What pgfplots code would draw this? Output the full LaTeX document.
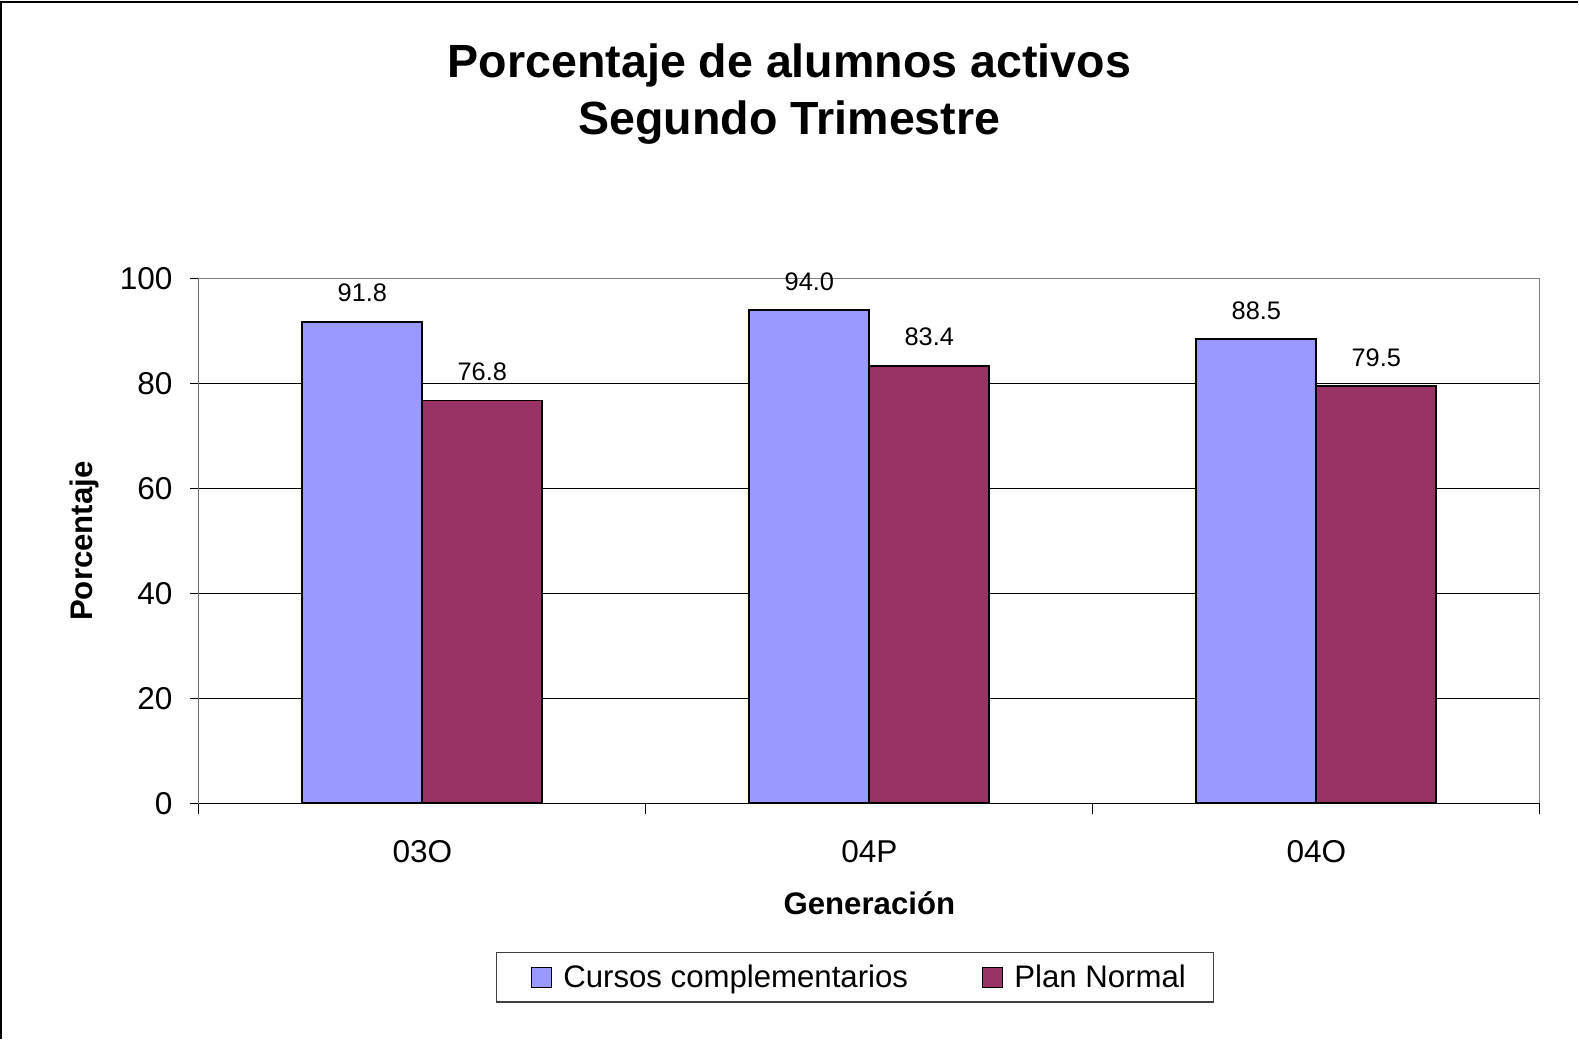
\documentclass[border=0pt]{standalone}
\usepackage{pgfplots}
\pgfplotsset{compat=1.18}
\usepackage{fontspec}
\setmainfont{Liberation Sans}
\definecolor{serA}{HTML}{9999FF}
\definecolor{serB}{HTML}{993366}
\begin{document}
\begin{tikzpicture}
\path (0,0) rectangle (789.5pt,520pt);
\draw[line width=1.2pt] (0.6pt,0) -- (0.6pt,519pt) -- (789.5pt,519pt);
\node[anchor=base,font=\fontsize{23.3}{28}\selectfont\bfseries] at (395pt,481.3pt) {Porcentaje de alumnos activos};
\node[anchor=base,font=\fontsize{23.3}{28}\selectfont\bfseries] at (395pt,452.5pt) {Segundo Trimestre};
\begin{axis}[
  at={(99.5pt,118pt)}, anchor=south west,
  scale only axis, width=671pt, height=262.5pt,
  xmin=-0.5, xmax=2.5, ymin=0, ymax=100,
  ybar=0pt, bar width=60pt,
  xtick={0,1,2}, xticklabels={03O,04P,04O},
  minor xtick={-0.5,0.5,1.5,2.5},
  ytick={0,20,40,60,80,100},
  xtick pos=lower, ytick pos=left,
  tick align=outside,
  major tick length=4.5pt, minor tick length=5.5pt,
  x tick style={draw=none},
  minor x tick style={draw=black, line width=0.5pt},
  y tick style={draw=black, line width=0.5pt},
  ymajorgrids, major grid style={black, line width=0.5pt},
  axis line style={draw=gray, line width=0.6pt},
  /pgf/number format/assume math mode=true,
  tick label style={font=\fontsize{15.8}{18}\selectfont},
  yticklabel style={anchor=east, inner sep=0pt, xshift=-13pt+4.5pt},
  xticklabel style={anchor=north, inner sep=0pt, yshift=-14pt},
  xlabel={Generación}, ylabel={Porcentaje},
  label style={font=\fontsize{15.6}{18}\selectfont\bfseries},
  xlabel style={at={(axis description cs:0.5,-0.1905)}, anchor=center},
  ylabel style={at={(axis description cs:-0.0850,0.5)}, anchor=center, rotate=0},
  nodes near coords,
  every node near coord/.append style={font=\fontsize{12.7}{15}\selectfont, anchor=base, yshift=10pt, inner sep=0pt,
     /pgf/number format/fixed, /pgf/number format/fixed zerofill, /pgf/number format/precision=1},
  legend columns=2,
  legend image code/.code={\path (-8.5pt,0pt); \draw[#1, line width=0.7pt] (0pt,-5pt) rectangle (10pt,5pt);},
  legend style={at={(axis description cs:0.4895,-0.3314)}, anchor=center,
     draw=black!75, line width=0.6pt, font=\fontsize{15.6}{18}\selectfont,
     inner xsep=8.5pt, inner ysep=4pt,
     nodes={inner xsep=5.5pt, inner ysep=2pt},
     /tikz/every even column/.append style={column sep=22.8pt}},
]
\addplot[fill=serA, draw=black, line width=1pt] coordinates {(0,91.8) (1,94.0) (2,88.5)};
\addplot[fill=serB, draw=black, line width=1pt] coordinates {(0,76.8) (1,83.4) (2,79.5)};
\legend{Cursos complementarios, Plan Normal}
\draw[black, line width=0.6pt] (rel axis cs:0,1) -- (rel axis cs:0,0) -- (rel axis cs:1,0);
\end{axis}
\end{tikzpicture}
\end{document}
